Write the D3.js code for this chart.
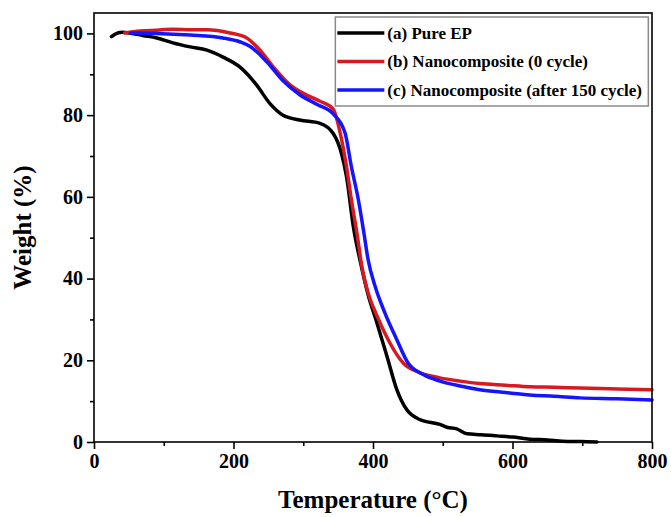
<!DOCTYPE html>
<html>
<head>
<meta charset="utf-8">
<script src="https://d3js.org/d3.v7.min.js"></script>
<style>
  body { margin: 0; background: #fff; }
</style>
</head>
<body>
<div id="chart"></div>
<script>
// TGA curves
const seriesNames = ["(a) Pure EP", "(b) Nanocomposite (0 cycle)", "(c) Nanocomposite (after 150 cycle)"];
const seriesColors = ["#000000", "#d71920", "#1414ff"];

const pureT = [25, 30, 40, 55, 70, 90, 113, 138, 162, 185, 209, 233, 252, 271, 295, 324, 343, 355, 362, 372, 382, 393, 405, 420, 434, 448, 467, 496, 506, 520, 535, 555, 578, 600, 625, 650, 672, 700, 721];
const pureW = [99.2, 99.8, 100.3, 100, 99.5, 98.9, 97.7, 96.7, 95.9, 94.2, 91.8, 87.4, 82.9, 80, 78.8, 78, 75.5, 70.5, 65, 52.5, 44, 36, 29.5, 21, 12.9, 8, 5.5, 4.3, 3.6, 3.2, 2.0, 1.8, 1.5, 1.2, 0.7, 0.5, 0.2, 0.1, 0];

const zeroT = [44, 66, 90, 113, 140, 162, 195, 219, 238, 257, 281, 305, 324, 343, 353, 362, 369, 377, 384, 393, 408, 424, 443, 467, 496, 525, 553, 590, 625, 660, 697, 750, 800];
const zeroW = [100.1, 100.6, 100.8, 101, 100.9, 100.9, 100.1, 98.9, 95.9, 91.8, 87.4, 84.9, 83.4, 81.5, 75.6, 67.4, 59.3, 51.1, 43, 36.5, 30, 24.3, 19.4, 17, 15.7, 14.9, 14.3, 13.9, 13.5, 13.4, 13.2, 13.0, 12.8];

const cycT = [52, 90, 138, 185, 210, 224, 248, 271, 295, 320, 343, 360, 369, 379, 387, 393, 403, 417, 434, 450, 472, 496, 525, 553, 590, 625, 660, 697, 750, 800];
const cycW = [100.1, 100.0, 99.6, 98.9, 97.9, 96.8, 93.0, 88.4, 85.0, 82.6, 80.3, 75.6, 67.4, 59.3, 51.1, 44.6, 38.1, 31.6, 25.1, 19.4, 16.5, 14.9, 13.7, 12.8, 12.1, 11.5, 11.2, 10.8, 10.6, 10.3];

const xTicks = [0, 200, 400, 600, 800];
const xMinor = [100, 300, 500, 700];
const yTicks = [0, 20, 40, 60, 80, 100];
const yMinor = [10, 30, 50, 70, 90];

const serif = '"Liberation Serif", "Times New Roman", Times, serif';

const W = 671, H = 517;
const margin = { top: 13, right: 19, bottom: 75, left: 94 };
const width = W - margin.left - margin.right;
const height = H - margin.top - margin.bottom;

const svg = d3.select("#chart").append("svg")
  .attr("width", W)
  .attr("height", H);

const g = svg.append("g")
  .attr("transform", `translate(${margin.left},${margin.top})`);

const x = d3.scaleLinear().domain([0, 800]).range([0, width]);
const y = d3.scaleLinear().domain([0, 105]).range([height, 0]);

// Curves
const series = [
  pureT.map((t, i) => [t, pureW[i]]),
  zeroT.map((t, i) => [t, zeroW[i]]),
  cycT.map((t, i) => [t, cycW[i]])
];

const line = d3.line()
  .x(d => x(d[0]))
  .y(d => y(d[1]))
  .curve(d3.curveMonotoneX);

g.selectAll(".curve")
  .data(series)
  .enter().append("path")
  .attr("class", "curve")
  .attr("d", line)
  .attr("fill", "none")
  .attr("stroke", (d, i) => seriesColors[i])
  .attr("stroke-width", 3.5)
  .attr("stroke-linejoin", "round")
  .attr("stroke-linecap", "round");

// Frame
g.append("rect")
  .attr("width", width)
  .attr("height", height)
  .attr("fill", "none")
  .attr("stroke", "#000")
  .attr("stroke-width", 1.6);

// X axis
const xAxis = g.append("g")
  .attr("transform", `translate(0,${height})`)
  .call(d3.axisBottom(x).tickValues(xTicks).tickSize(7).tickPadding(5));
g.append("g")
  .attr("transform", `translate(0,${height})`)
  .call(d3.axisBottom(x).tickValues(xMinor).tickSize(4).tickFormat(""));

// Y axis
const yAxis = g.append("g")
  .call(d3.axisLeft(y).tickValues(yTicks).tickSize(7).tickPadding(4));
g.append("g")
  .call(d3.axisLeft(y).tickValues(yMinor).tickSize(4).tickFormat(""));

g.selectAll(".domain").remove();
g.selectAll(".tick line").attr("stroke", "#000").attr("stroke-width", 1.6);
g.selectAll(".tick text")
  .style("font-family", serif)
  .style("font-weight", "bold")
  .style("font-size", "20px")
  .attr("fill", "#000");

// Axis titles
svg.append("text")
  .attr("x", margin.left + width / 2)
  .attr("y", 508)
  .attr("text-anchor", "middle")
  .style("font-family", serif)
  .style("font-weight", "bold")
  .style("font-size", "25px")
  .text("Temperature (°C)");

svg.append("text")
  .attr("transform", `translate(31,${margin.top + height / 2}) rotate(-90)`)
  .attr("text-anchor", "middle")
  .style("font-family", serif)
  .style("font-weight", "bold")
  .style("font-size", "25px")
  .text("Weight (%)");

// Legend
const legend = g.append("g").attr("transform", `translate(${x(346)},4)`);
legend.append("rect")
  .attr("width", 313)
  .attr("height", 89)
  .attr("fill", "#fff")
  .attr("stroke", "#8a8a8a")
  .attr("stroke-width", 1.5);

const rows = legend.selectAll(".row")
  .data(seriesNames)
  .enter().append("g")
  .attr("transform", (d, i) => `translate(0,${16 + i * 28.5})`);

rows.append("line")
  .attr("x1", 2).attr("x2", 49)
  .attr("stroke", (d, i) => seriesColors[i])
  .attr("stroke-width", 3.5);

rows.append("text")
  .attr("x", 52)
  .attr("dy", "0.35em")
  .style("font-family", serif)
  .style("font-weight", "bold")
  .style("font-size", "17px")
  .text(d => d);
</script>
</body>
</html>
